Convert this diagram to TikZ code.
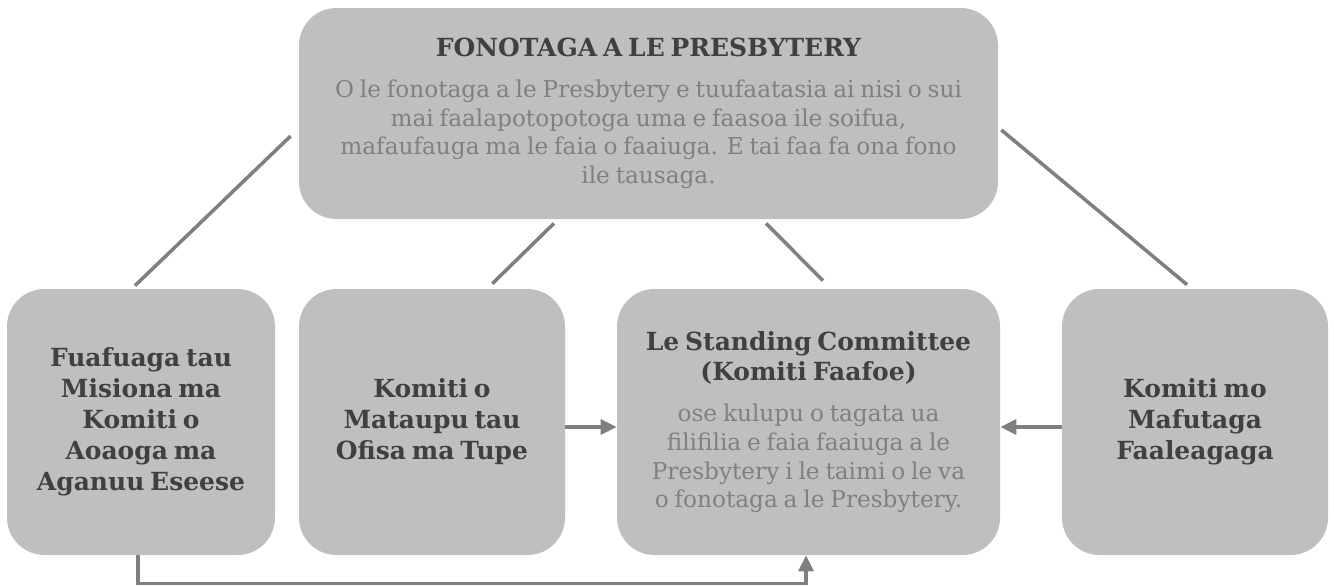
\documentclass[tikz,border=0pt]{standalone}
\usepackage{fontspec}
\setmainfont{DejaVu Serif}
\usetikzlibrary{shapes,arrows.meta,positioning,calc}
\definecolor{boxgray}{RGB}{191,191,191}
\definecolor{linegray}{RGB}{127,127,127}
\definecolor{titlegray}{RGB}{64,64,64}
\definecolor{textgray}{RGB}{128,128,128}
\newcommand{\paneltitle}{\color{titlegray}\bfseries\fontsize{14.2}{17.6}\selectfont}
\newcommand{\paneltext}{\color{textgray}\fontsize{13.2}{16.3}\selectfont}

\begin{document}
\begin{tikzpicture}[
    panel/.style={rectangle, fill=boxgray, rounded corners=0.75cm, inner sep=0.1cm, align=center, minimum height=5.32cm},
    link/.style={draw=linegray, line width=2pt},
    arrow/.style={draw=linegray, line width=2pt, -{Triangle[length=0.32cm, width=0.3cm]}}
]
    \useasboundingbox (0,0) rectangle (26.68,-11.72);

    % Top
    \node[panel, text width=13.78cm, minimum height=4.22cm] (presby) at (12.97,-2.27)
        {{\paneltitle FONOTAGA A LE PRESBYTERY\par}\vspace{7pt}
         {\paneltext O le fonotaga a le Presbytery e tuufaatasia ai nisi o sui\\
          mai faalapotopotoga uma e faasoa ile soifua,\\
          mafaufauga ma le faia o faaiuga. E tai faa fa ona fono\\
          ile tausaga.\par}};

    % Committees
    \node[panel, text width=5.16cm] (fuafuaga) at (2.82,-8.44)
        {{\paneltitle Fuafuaga tau\\Misiona ma\\Komiti o\\Aoaoga ma\\Aganuu Eseese\par}};
    \node[panel, text width=5.12cm] (mataupu) at (8.64,-8.44)
        {{\paneltitle Komiti o\\Mataupu tau\\Ofisa ma Tupe\par}};
    \node[panel, text width=7.46cm] (standing) at (16.17,-8.44)
        {{\paneltitle Le Standing Committee\\(Komiti Faafoe)\par}\vspace{7pt}
         {\paneltext ose kulupu o tagata ua\\
          filifilia e faia faaiuga a le\\
          Presbytery i le taimi o le va\\
          o fonotaga a le Presbytery.\par}};
    \node[panel, text width=5.12cm] (mafutaga) at (23.9,-8.44)
        {{\paneltitle Komiti mo\\Mafutaga\\Faaleagaga\par}};

    % Lines to the top
    \draw[link] ($(fuafuaga.north)+(-0.12,0.06)$) -- ($(presby.west)+(-0.16,-0.45)$);
    \draw[link] ($(mataupu.north east)+(-1.46,0.1)$) -- ($(presby.south)+(-1.89,-0.08)$);
    \draw[link] ($(presby.south)+(2.35,-0.08)$) -- ($(standing.north)+(0.29,0.16)$);
    \draw[link] ($(presby.east)+(0.06,-0.33)$) -- ($(mafutaga.north)+(-0.16,0.08)$);

    % Arrows into the standing committee
    \draw[arrow] ([yshift=-0.1cm]mataupu.east) -- ([yshift=-0.1cm]standing.west);
    \draw[arrow] ([yshift=-0.1cm]mafutaga.west) -- ([yshift=-0.1cm]standing.east);
    \draw[arrow] ([xshift=-0.06cm]fuafuaga.south) -- ++(0,-0.56) -| ([xshift=-0.05cm]standing.south);
\end{tikzpicture}
\end{document}
